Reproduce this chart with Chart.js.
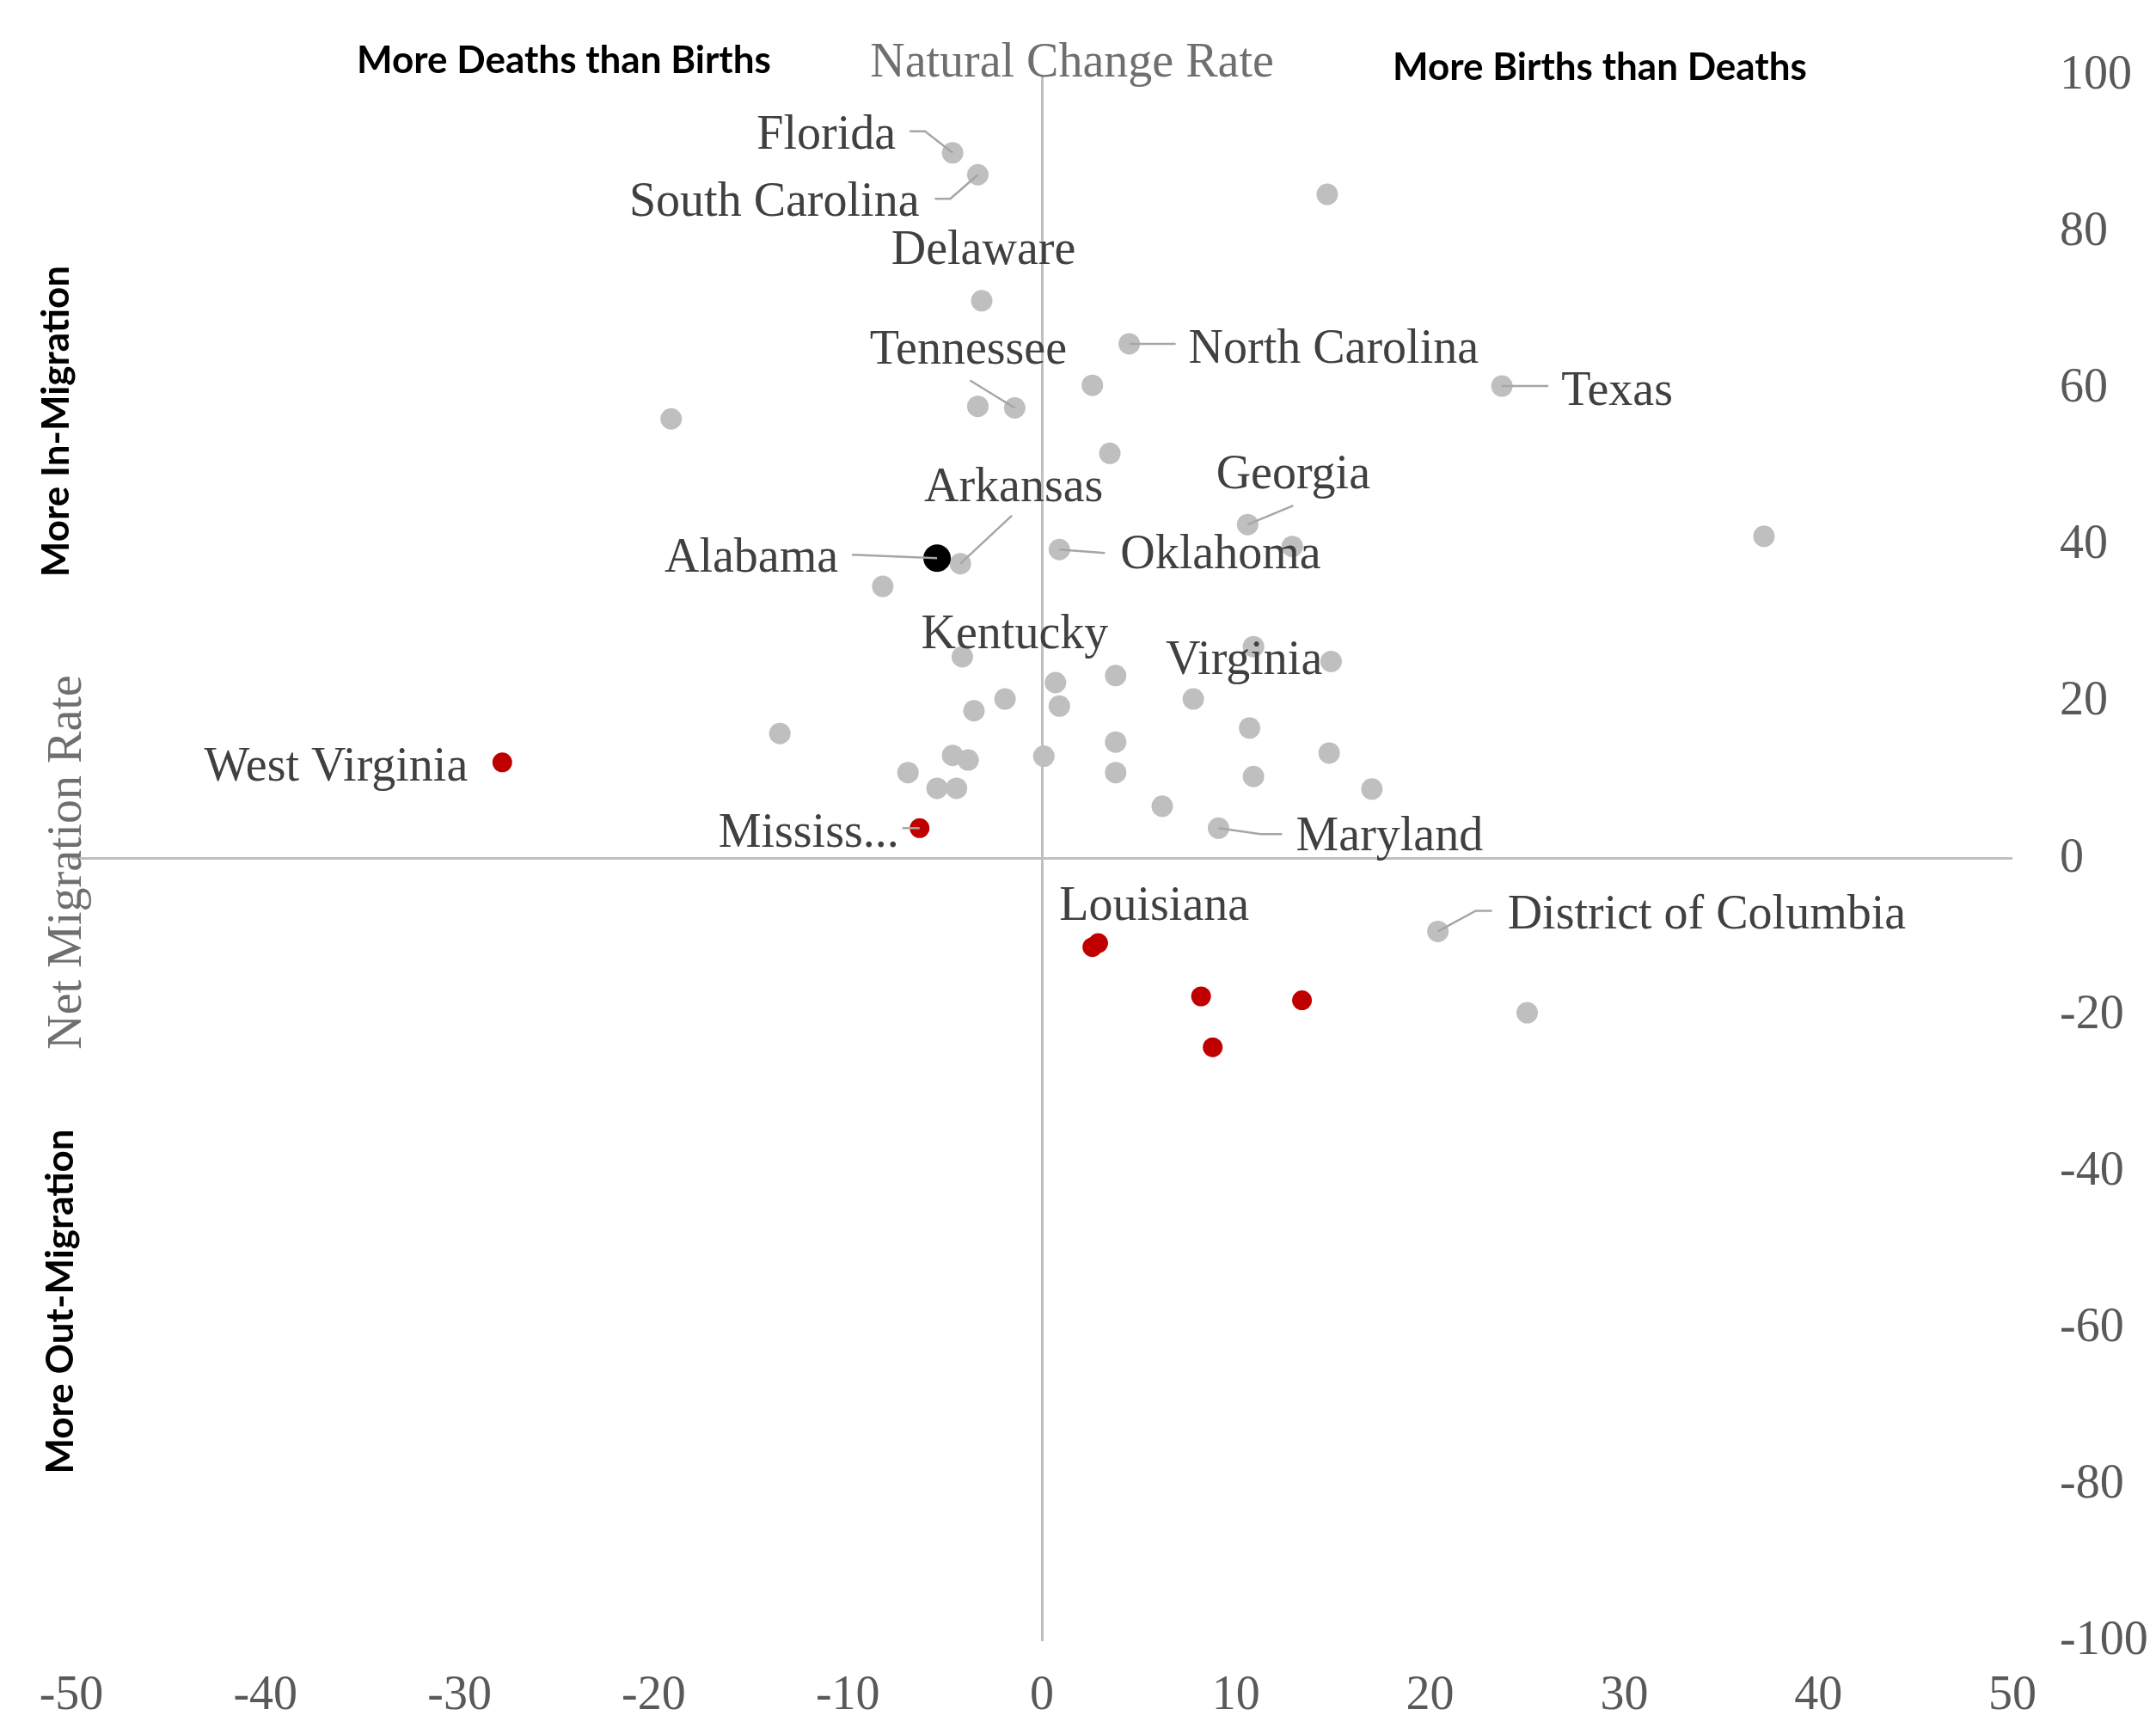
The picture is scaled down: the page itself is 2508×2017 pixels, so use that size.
<!DOCTYPE html>
<html>
<head>
<meta charset="utf-8">
<script src="https://cdn.jsdelivr.net/npm/chart.js@4.4.1/dist/chart.umd.min.js"></script>
<style>
  html, body { margin: 0; padding: 0; background: #ffffff; }
  #wrap { width: 2508px; height: 2017px; position: relative; }
</style>
</head>
<body>
<div id="wrap"><canvas id="rateChart"></canvas></div>
<script>
// natural change rate (x) vs net migration rate (y), per 1,000
const xTicks = [-50, -40, -30, -20, -10, 0, 10, 20, 30, 40, 50];
const yTicks = [-100, -80, -60, -40, -20, 0, 20, 40, 60, 80, 100];

// growing states (labelled ones first)
const growNames = ['Florida', 'South Carolina', 'Delaware', 'Tennessee', 'North Carolina', 'Texas',
  'Georgia', 'Oklahoma', 'Arkansas', 'Kentucky', 'Virginia', 'Maryland', 'District of Columbia'];
const growX = [-4.6, -3.3, -3.1, -1.4, 4.5, 23.7, 10.6, 0.9, -4.2, -4.1, 10.9, 9.1, 20.4,
  14.7, 2.6, -3.3, -19.1, 3.5, 37.2, 12.9, -8.2, 14.9, 0.7, 3.8, -1.9, 7.8, 0.9, -3.5, 10.7,
  -13.5, 3.8, -4.6, 0.1, 14.8, -3.8, -6.9, 3.8, 10.9, -5.4, -4.4, 17.0, 6.2, 25.0];
const growY = [90.2, 87.4, 71.3, 57.6, 65.8, 60.4, 42.7, 39.5, 37.7, 25.8, 27.1, 3.9, -9.3,
  84.9, 60.5, 57.8, 56.2, 51.8, 41.2, 39.9, 34.8, 25.2, 22.5, 23.4, 20.4, 20.4, 19.5, 18.9, 16.7,
  16.0, 14.9, 13.2, 13.1, 13.5, 12.6, 11.0, 11.0, 10.5, 9.0, 9.0, 8.9, 6.7, -19.7];

// shrinking states
const declineNames = ['West Virginia', 'Mississ...', 'Louisiana'];
const declineX = [-27.8, -6.3, 2.6, 2.9, 8.2, 13.4, 8.8];
const declineY = [12.3, 3.9, -11.3, -10.8, -17.6, -18.1, -24.1];

// highlighted state
const focusNames = ['Alabama'];
const focusX = [-5.4];
const focusY = [38.4];

// label placement, px offsets from the point
const callouts = {
  'Florida': { dx: -66, dy: -23, align: 'right', lead: [[-50, -25], [-32, -25]] },
  'South Carolina': { dx: -68, dy: 30, align: 'right', lead: [[-50, 28], [-32, 28]] },
  'Delaware': { dx: 2, dy: -61, align: 'center' },
  'Tennessee': { dx: -54, dy: -70, align: 'center', lead: [[-52, -32]] },
  'North Carolina': { dx: 69, dy: 4, align: 'left', lead: [[54, 0]] },
  'Texas': { dx: 69, dy: 4, align: 'left', lead: [[54, 0]] },
  'Georgia': { dx: 53, dy: -60, align: 'center', lead: [[53, -22]] },
  'Oklahoma': { dx: 71, dy: 4, align: 'left', lead: [[53, 4]] },
  'Arkansas': { dx: 62, dy: -91, align: 'center', lead: [[60, -56]] },
  'Kentucky': { dx: 61, dy: -28, align: 'center' },
  'Virginia': { dx: -11, dy: 14, align: 'center' },
  'Maryland': { dx: 90, dy: 8, align: 'left', lead: [[74, 7], [49, 7]] },
  'District of Columbia': { dx: 81, dy: -21, align: 'left', lead: [[63, -24], [44, -24]] },
  'West Virginia': { dx: -40, dy: 3, align: 'right' },
  'Mississ...': { dx: -24, dy: 4, align: 'right', lead: [[-20, 0]] },
  'Louisiana': { dx: 72, dy: -50, align: 'center' },
  'Alabama': { dx: -115, dy: -2, align: 'right', lead: [[-99, -4]] }
};

function toPoints(xs, ys) {
  return xs.map((x, i) => ({ x: x, y: ys[i] }));
}

const pointLabels = {
  id: 'pointLabels',
  afterDatasetsDraw(chart) {
    const ctx = chart.ctx;
    const sets = [growNames, declineNames, focusNames];
    ctx.save();
    sets.forEach((names, d) => {
      const meta = chart.getDatasetMeta(d);
      names.forEach((name, i) => {
        const el = meta.data[i];
        const c = callouts[name];
        if (!el || !c) return;
        if (c.lead) {
          ctx.beginPath();
          ctx.strokeStyle = '#A6A6A6';
          ctx.lineWidth = 2.5;
          ctx.moveTo(el.x + c.lead[0][0], el.y + c.lead[0][1]);
          for (let k = 1; k < c.lead.length; k++) {
            ctx.lineTo(el.x + c.lead[k][0], el.y + c.lead[k][1]);
          }
          ctx.lineTo(el.x, el.y);
          ctx.stroke();
        }
        ctx.font = '56px "Liberation Serif"';
        ctx.fillStyle = '#404040';
        ctx.textAlign = c.align;
        ctx.textBaseline = 'alphabetic';
        ctx.fillText(name, el.x + c.dx, el.y + c.dy + 18);
      });
    });
    ctx.restore();
  }
};

const headings = {
  id: 'headings',
  afterDraw(chart) {
    const ctx = chart.ctx;
    ctx.save();
    ctx.textAlign = 'center';
    ctx.textBaseline = 'alphabetic';

    ctx.font = '56px "Liberation Serif"';
    ctx.fillStyle = '#6F6F6F';
    ctx.fillText('Natural Change Rate', 1247, 89);

    ctx.font = 'bold 44px Lato';
    ctx.fillStyle = '#000000';
    ctx.fillText('More Deaths than Births', 656, 85);
    ctx.fillText('More Births than Deaths', 1861, 93);

    function vText(text, x, y, font, color) {
      ctx.save();
      ctx.translate(x, y);
      ctx.rotate(-Math.PI / 2);
      ctx.font = font;
      ctx.fillStyle = color;
      ctx.fillText(text, 0, 0);
      ctx.restore();
    }
    vText('More In-Migration', 80, 490, 'bold 44px Lato', '#000000');
    vText('Net Migration Rate', 94, 1003, '56px "Liberation Serif"', '#6F6F6F');
    vText('More Out-Migration', 85, 1514, 'bold 44px Lato', '#000000');
    ctx.restore();
  }
};

const zeroLine = ctx => (ctx.tick && ctx.tick.value === 0) ? '#BFBFBF' : 'rgba(0,0,0,0)';

new Chart(document.getElementById('rateChart'), {
  type: 'scatter',
  data: {
    datasets: [{
      label: 'Growing',
      data: toPoints(growX, growY),
      backgroundColor: '#BFBFBF',
      borderWidth: 0,
      pointRadius: 12.5,
      order: 3
    }, {
      label: 'Declining',
      data: toPoints(declineX, declineY),
      backgroundColor: '#C00000',
      borderWidth: 0,
      pointRadius: 11.5,
      order: 2
    }, {
      label: 'Alabama',
      data: toPoints(focusX, focusY),
      backgroundColor: '#000000',
      borderWidth: 0,
      pointRadius: 16,
      order: 1
    }]
  },
  options: {
    responsive: true,
    maintainAspectRatio: false,
    animation: false,
    layout: { padding: { left: 83, top: 83, right: 0, bottom: 0 } },
    plugins: {
      legend: { display: false },
      tooltip: { enabled: false }
    },
    scales: {
      x: {
        type: 'linear',
        position: 'bottom',
        min: -50,
        max: 50,
        afterBuildTicks: s => { s.ticks = xTicks.map(v => ({ value: v })); },
        afterFit: s => { s.height = 108; },
        border: { display: false },
        grid: { color: zeroLine, lineWidth: 3, drawTicks: false },
        ticks: {
          padding: 31,
          color: '#595959',
          font: { family: 'Liberation Serif', size: 56 },
          maxRotation: 0
        }
      },
      y: {
        type: 'linear',
        position: 'right',
        min: -100,
        max: 100,
        afterBuildTicks: s => { s.ticks = yTicks.map(v => ({ value: v })); },
        afterFit: s => { s.width = 167; },
        border: { display: false },
        grid: { color: zeroLine, lineWidth: 3, drawTicks: false },
        ticks: {
          padding: 55,
          color: '#595959',
          font: { family: 'Liberation Serif', size: 56 }
        }
      }
    }
  },
  plugins: [pointLabels, headings]
});
</script>
</body>
</html>
